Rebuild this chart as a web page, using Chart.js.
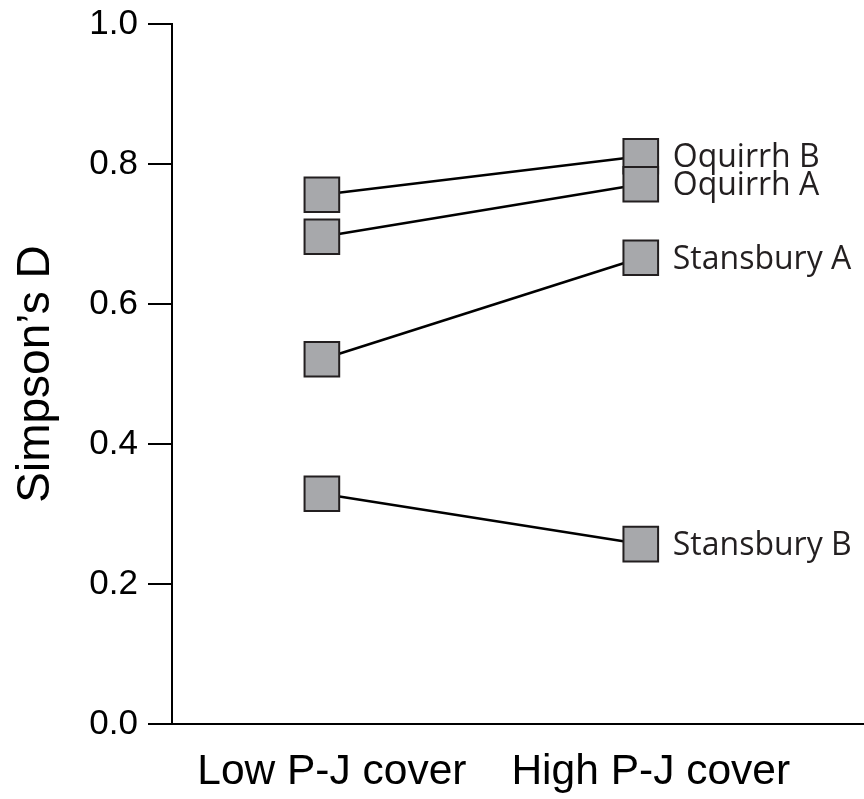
<!DOCTYPE html>
<html>
<head>
<meta charset="utf-8">
<script src="https://cdn.jsdelivr.net/npm/chart.js@4"></script>
<style>
  html, body { margin: 0; padding: 0; background: #fff; overflow: hidden; }
  #wrap { width: 864px; height: 799px; }
</style>
</head>
<body>
<div id="wrap"><canvas id="slopeChart"></canvas></div>
<script>
// ==================== data
const categories = ["Low P-J cover", "High P-J cover"];
const siteNames = ["Oquirrh B", "Oquirrh A", "Stansbury A", "Stansbury B"];
const lowCover = [0.756, 0.696, 0.521, 0.329];
const highCover = [0.811, 0.771, 0.666, 0.257];
const yTicks = [0, 0.2, 0.4, 0.6, 0.8, 1.0];

// ==================== site labels next to the right-hand points
const siteLabels = {
  id: "siteLabels",
  afterDatasetsDraw(chart) {
    const ctx = chart.ctx;
    ctx.save();
    ctx.font = "32px 'Open Sans'";
    ctx.fillStyle = "#231f20";
    ctx.textAlign = "left";
    ctx.textBaseline = "middle";
    chart.data.datasets.forEach((ds, i) => {
      const pts = chart.getDatasetMeta(i).data;
      const last = pts[pts.length - 1];
      ctx.fillText(siteNames[i], last.x + 32, last.y + 2);
    });
    ctx.restore();
  }
};

const datasets = siteNames.map((name, i) => ({
  label: name,
  data: [
    { x: 0, y: lowCover[i] },
    { x: 1, y: highCover[i] }
  ],
  order: siteNames.length - i, // Oquirrh A square sits on top of Oquirrh B
  borderColor: "#000",
  borderWidth: 2.5,
  pointStyle: "rect",
  pointRadius: 24.5,
  pointHoverRadius: 24.5,
  pointBackgroundColor: "#a7a8ab",
  pointBorderColor: "#231f20",
  pointBorderWidth: 2,
  showLine: true
}));

let ctx = document.getElementById("slopeChart").getContext("2d");
let slopeChart = new Chart(ctx, {
  type: "scatter",
  data: { datasets: datasets },
  options: {
    responsive: true,
    maintainAspectRatio: false,
    animation: false,
    layout: {
      autoPadding: false,
      padding: { top: 24, right: 0, left: 0, bottom: 0 }
    },
    plugins: {
      legend: { display: false },
      tooltip: { enabled: false }
    },
    scales: {
      x: {
        type: "linear",
        min: -0.47,
        max: 1.7,
        afterBuildTicks: (axis) => {
          axis.ticks = categories.map((c, i) => ({ value: i }));
        },
        afterFit: (axis) => {
          axis.height = 75;
          axis.paddingLeft = 0;
          axis.paddingRight = 0;
        },
        grid: { display: true, drawOnChartArea: false, drawTicks: false },
        border: { display: true, color: "#000", width: 2 },
        ticks: {
          padding: 23,
          labelOffset: 10,
          color: "#000",
          font: { family: "'Liberation Sans'", size: 42.5 },
          callback: (v) => categories[v]
        }
      },
      y: {
        min: 0,
        max: 1,
        afterBuildTicks: (axis) => {
          axis.ticks = yTicks.map((v) => ({ value: v }));
        },
        afterFit: (axis) => {
          axis.width = 172;
          axis.paddingTop = 0;
          axis.paddingBottom = 0;
        },
        grid: {
          drawOnChartArea: false,
          drawTicks: true,
          tickLength: 24,
          color: "#000",
          lineWidth: 2
        },
        border: { display: true, color: "#000", width: 2 },
        ticks: {
          padding: 10,
          color: "#000",
          font: { family: "'Liberation Sans'", size: 35 },
          callback: (v) => v.toFixed(1)
        },
        title: {
          display: true,
          text: "Simpson\u2019s D",
          color: "#000",
          font: { family: "'Liberation Sans'", size: 46 },
          padding: { top: 9, bottom: 0 }
        }
      }
    }
  },
  plugins: [siteLabels]
});
</script>
</body>
</html>
